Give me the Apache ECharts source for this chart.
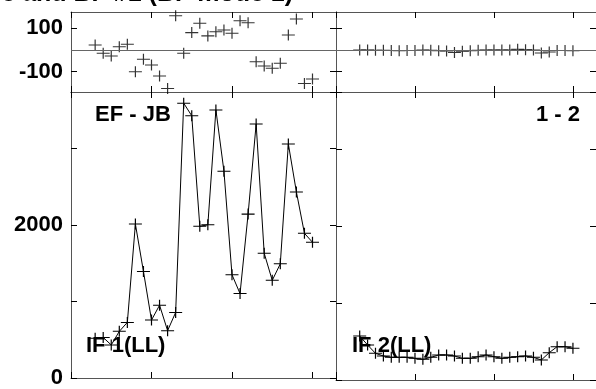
<!DOCTYPE html>
<html>
<head>
<meta charset="utf-8">
<script src="https://cdn.jsdelivr.net/npm/echarts@6/dist/echarts.min.js"></script>
<style>
html,body{margin:0;padding:0;background:#fff;}
#chart{width:596px;height:389px;}
</style>
</head>
<body>
<div id="chart"></div>
<script>
// sample index (x positions)
const sampleIdx = [3,4,5,6,7,8,9,10,11,12,13,14,15,16,17,18,19,20,21,22,23,24,25,26,27,28,29,30];
// EF - JB, IF 1 (LL)
const phaseLeft = [23,-15,-28,15,26,-100,-43,-69,-120,-177,158,-15,80,123,65,84,92,77,135,126,-54,-74,-84,-61,69,143,-154,-134];
const ampLeft = [520,530,432,610,727,2013,1394,757,952,619,857,3594,3429,1983,2004,3506,2705,1351,1104,2143,3321,1632,1277,1493,3061,2433,1892,1775];
// 1 - 2, IF 2 (LL)
const phaseRight = [0,0,-1,-1,-2,-3,-2,-2,0,-1,-3,-5,-12,-6,-3,-1,0,0,0,0,3,1,0,-14,-9,-2,-2,-3];
const ampRight = [571,455,346,312,294,294,294,281,268,294,325,325,312,281,281,303,325,303,281,294,303,312,294,260,355,433,433,411];
// tick labels
const phaseTickLabels = [-100, 100];
const phaseTicks = [-100, 0, 100];
const ampTickLabels = [0, 2000];
const titleText = 'e and BF #1 (BF mode 1)';
const panelLabels = ['EF - JB', '1 - 2', 'IF 1(LL)', 'IF 2(LL)'];

const chart = echarts.init(document.getElementById('chart'), null, {renderer:'canvas'});
const FONT = 'Liberation Sans, Arial, Helvetica, sans-serif';
const AX = '#555';
const cross = 'path://M0,5L10,5M5,0L5,10';

const grids = [
  {left:71, top:12, width:265, height:80},
  {left:336, top:12, width:265, height:80},
  {left:71, top:92, width:265, height:288},
  {left:336, top:92, width:265, height:288}
];
const xAxes = [], yAxes = [];
grids.forEach((g, i) => {
  ['bottom','top'].forEach(pos => {
    xAxes.push({
      type:'value', gridIndex:i, position:pos, min:0, max:32.92, interval:10,
      axisLine:{show:true, onZero:false, lineStyle:{color:AX, width:1}},
      axisTick:{show:true, inside:true, length:6, lineStyle:{color:'#000', width:1}},
      axisLabel:{show:false}, splitLine:{show:false}
    });
  });
  const isPhase = i < 2;
  ['left','right'].forEach(pos => {
    const ax = {
      type:'value', gridIndex:i, position:pos,
      axisLine:{show:true, onZero:false, lineStyle:{color:AX, width:1}},
      axisTick:{show:true, inside:true, length:6, lineStyle:{color:'#000', width:1}},
      splitLine:{show:false},
      axisLabel:{show:(pos==='left' && (i===0 || i===2)), fontFamily:FONT, fontWeight:'bold', fontSize:22, color:'#000', margin:8}
    };
    if (isPhase) {
      ax.min = -193.5; ax.max = 175;
      ax.axisTick.customValues = phaseTicks;
      ax.axisLabel.customValues = phaseTickLabels;
    } else {
      ax.min = 0; ax.max = 3740; ax.interval = 1000;
      ax.axisLabel.formatter = v => (ampTickLabels.indexOf(v) >= 0 ? String(v) : '');
      ax.axisLabel.showMaxLabel = false;
    }
    yAxes.push(ax);
  });
});

function pts(vals){ return sampleIdx.map((x,k)=>[x, vals[k]]); }

const symStyle = {color:'#000', borderColor:'#000', borderWidth:1.1};
const zeroLine = {
  silent:true, symbol:['none','none'], label:{show:false},
  lineStyle:{color:'#666', type:'solid', width:1},
  data:[{yAxis:0}], animation:false
};
const series = [
  {type:'scatter', xAxisIndex:0, yAxisIndex:0, data:pts(phaseLeft), symbol:cross, symbolSize:[13,11], itemStyle:symStyle, clip:false, markLine:zeroLine},
  {type:'scatter', xAxisIndex:2, yAxisIndex:2, data:pts(phaseRight), symbol:cross, symbolSize:[13,11], itemStyle:symStyle, clip:false, markLine:zeroLine},
  {type:'line', xAxisIndex:4, yAxisIndex:4, data:pts(ampLeft), symbol:cross, symbolSize:[13,11], showSymbol:true, itemStyle:symStyle, lineStyle:{color:'#000', width:1}, clip:false},
  {type:'line', xAxisIndex:6, yAxisIndex:6, data:pts(ampRight), symbol:cross, symbolSize:[13,11], showSymbol:true, itemStyle:symStyle, lineStyle:{color:'#000', width:1}, clip:false}
];

const txtFont = 'bold 22px ' + FONT;
chart.setOption({
  animation:false,
  backgroundColor:'#fff',
  grid:grids,
  xAxis:xAxes,
  yAxis:yAxes,
  series:series,
  graphic:[
    {type:'text', z:100, style:{text:titleText, x:293, y:7, textAlign:'right', textVerticalAlign:'bottom', font:'bold 25px ' + FONT, fill:'#000'}},
    {type:'text', z:100, style:{text:panelLabels[0], x:95, y:126, textAlign:'left', textVerticalAlign:'bottom', font:txtFont, fill:'#000'}},
    {type:'text', z:100, style:{text:panelLabels[1], x:580, y:126, textAlign:'right', textVerticalAlign:'bottom', font:txtFont, fill:'#000'}},
    {type:'text', z:100, style:{text:panelLabels[2], x:86, y:357, textAlign:'left', textVerticalAlign:'bottom', font:txtFont, fill:'#000'}},
    {type:'text', z:100, style:{text:panelLabels[3], x:352, y:357, textAlign:'left', textVerticalAlign:'bottom', font:txtFont, fill:'#000'}}
  ]
});
</script>
</body>
</html>
